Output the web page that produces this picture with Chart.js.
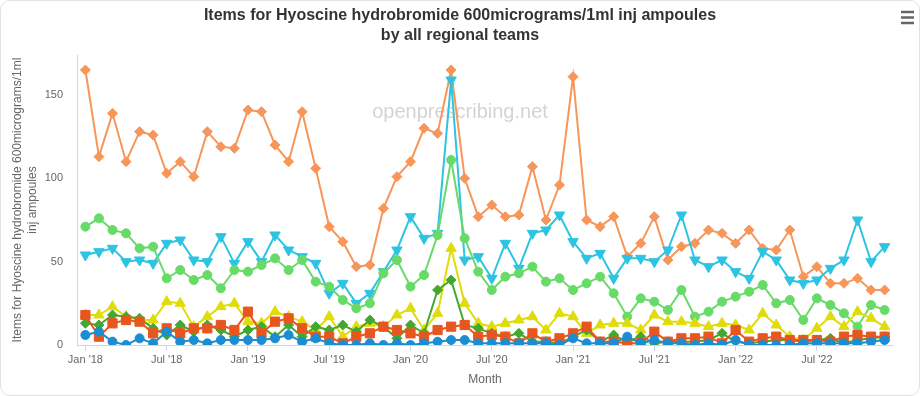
<!DOCTYPE html>
<html>
<head>
<meta charset="utf-8">
<title>Hyoscine hydrobromide items by regional team</title>
<script src="https://cdn.jsdelivr.net/npm/chart.js@4.4.1/dist/chart.umd.min.js"></script>
<style>
  html, body { margin: 0; padding: 0; background: #fff; }
  #wrap { position: relative; width: 920px; height: 396px; }
  #frame { position: absolute; left: 0; top: 0; width: 920px; height: 396px; box-sizing: border-box;
           border: 1px solid #e2e2e2; border-radius: 10px; pointer-events: none; }
</style>
</head>
<body>
<div id="wrap">
  <canvas id="chart" width="920" height="396"></canvas>
  <div id="frame"></div>
</div>
<script>
// Months Jan 2018 .. Dec 2022
const months = [
  "2018-01","2018-02","2018-03","2018-04","2018-05","2018-06","2018-07","2018-08","2018-09","2018-10","2018-11","2018-12",
  "2019-01","2019-02","2019-03","2019-04","2019-05","2019-06","2019-07","2019-08","2019-09","2019-10","2019-11","2019-12",
  "2020-01","2020-02","2020-03","2020-04","2020-05","2020-06","2020-07","2020-08","2020-09","2020-10","2020-11","2020-12",
  "2021-01","2021-02","2021-03","2021-04","2021-05","2021-06","2021-07","2021-08","2021-09","2021-10","2021-11","2021-12",
  "2022-01","2022-02","2022-03","2022-04","2022-05","2022-06","2022-07","2022-08","2022-09","2022-10","2022-11","2022-12"
];
const tickLabels = ["Jan '18", "Jul '18", "Jan '19", "Jul '19", "Jan '20", "Jul '20", "Jan '21", "Jul '21", "Jan '22", "Jul '22"];
const yTicks = [0, 50, 100, 150];

// items per regional team
const orangeTeam = [165,113,139,110,128,126,103,110,101,128, 119,118,141,140,120,110,140,106,71,62,
                    47,48,82,101,110,130,127,165,100,77, 84,77,78,107,75,96,161,75,71,77,
                    53,61,77,51,59,61,69,67,61,69, 58,57,69,41,47,37,37,40,33,33];
const cyanTeam = [54,56,58,50,51,49,61,63,51,50, 65,49,62,50,66,57,53,49,31,37,
                  25,31,44,57,77,64,67,159,51,53, 40,61,46,67,69,78,62,52,55,40,
                  52,52,50,57,78,51,47,51,44,40, 56,51,39,37,39,46,51,75,50,59];
const lightGreenTeam = [71,76,69,67,58,59,40,45,39,42, 34,45,44,48,52,45,51,38,35,27,
                        22,25,43,51,35,42,66,111,64,44, 33,41,43,47,38,40,33,37,41,31,
                        17,28,26,21,33,17,20,26,29,32, 36,25,27,15,28,24,19,11,24,21];
const yellowTeam = [18,18,23,17,15,15,26,25,11,17, 23,25,14,13,20,17,14,9,17,5,
                    11,13,11,18,22,9,19,58,25,13, 11,13,15,17,9,19,17,7,12,13,
                    13,9,18,14,14,13,11,13,12,9, 19,12,5,3,10,17,11,20,16,11];
const darkGreenTeam = [13,12,18,17,16,10,6,12,8,12, 9,5,9,11,5,12,5,11,9,12,
                       8,15,11,4,12,7,33,39,12,10, 7,5,7,2,2,1,5,9,2,6,
                       2,5,1,2,2,2,3,7,2,1, 2,3,3,2,3,4,1,3,4,5];
const redTeam = [18,5,13,15,14,7,10,7,10,10, 12,9,20,7,14,16,10,5,5,1,
                 5,7,11,9,7,5,9,11,12,5, 6,5,1,7,2,4,7,11,2,2,
                 1,1,8,2,4,4,5,1,9,2, 4,5,3,3,3,2,5,6,5,5];
const blueTeam = [6,8,2,0,4,1,8,2,3,1, 3,3,3,3,4,6,2,4,1,0,
                  0,1,0,1,0,1,2,3,3,1, 1,1,1,1,1,0,4,1,1,1,
                  5,1,3,1,1,0,1,0,3,0, 0,0,0,1,1,1,1,1,2,3];

function toPoints(values) {
  return values.map((v, i) => ({ x: i, y: v }));
}

function series(label, values, color, style, radius, rotation) {
  return {
    label: label,
    data: toPoints(values),
    borderColor: color,
    backgroundColor: color,
    pointBackgroundColor: color,
    pointBorderColor: color,
    pointBorderWidth: 1,
    pointStyle: style,
    pointRadius: radius,
    pointRotation: rotation || 0,
    borderWidth: 2,
    tension: 0,
  };
}

// watermark and the menu icon in the corner
const extras = {
  id: "extras",
  beforeDatasetsDraw(chart) {
    const ctx = chart.ctx;
    ctx.save();
    ctx.font = "20px 'Liberation Sans', Arial, sans-serif";
    ctx.fillStyle = "#d4d4d4";
    ctx.textAlign = "center";
    ctx.textBaseline = "middle";
    ctx.fillText("openprescribing.net", 460, 112);
    ctx.restore();
  },
  afterDraw(chart) {
    const ctx = chart.ctx;
    ctx.save();
    ctx.strokeStyle = "#666";
    ctx.lineWidth = 2.5;
    [12, 17.5, 23].forEach((y) => {
      ctx.beginPath();
      ctx.moveTo(901, y);
      ctx.lineTo(914, y);
      ctx.stroke();
    });
    ctx.restore();
  },
};

const axisColor = "#ccd6eb";
const labelFont = { family: "'Liberation Sans', Arial, sans-serif", size: 11 };

new Chart(document.getElementById("chart"), {
  type: "line",
  data: {
    datasets: [
      series("Team 7", blueTeam, "#1b8dd0", "circle", 4.5),
      series("Team 6", redTeam, "#e8561f", "rect", 6.5),
      series("Team 5", darkGreenTeam, "#44a830", "rectRot", 5),
      series("Team 4", yellowTeam, "#e0dc0a", "triangle", 6),
      series("Team 3", lightGreenTeam, "#68da68", "circle", 4.5),
      series("Team 2", cyanTeam, "#2cc4e2", "triangle", 6, 180),
      series("Team 1", orangeTeam, "#f7965a", "rectRot", 5),
    ],
  },
  options: {
    responsive: false,
    animation: false,
    layout: { padding: { left: 0, right: 0, top: 0, bottom: 0 } },
    plugins: {
      legend: { display: false },
      tooltip: { enabled: false },
      title: {
        display: true,
        text: ["Items for Hyoscine hydrobromide 600micrograms/1ml inj ampoules", "by all regional teams"],
        color: "#333",
        font: { family: "'Liberation Sans', Arial, sans-serif", size: 16, weight: "bold", lineHeight: 1.25 },
        padding: { top: 6, bottom: 9 },
      },
    },
    scales: {
      x: {
        type: "linear",
        min: -0.62,
        max: 59.62,
        afterBuildTicks: (scale) => {
          scale.ticks = tickLabels.map((_, k) => ({ value: k * 6 }));
        },
        afterFit: (scale) => {
          scale.height = 51;
          scale.paddingRight = 27;
          scale.paddingLeft = 0;
        },
        ticks: {
          autoSkip: false,
          maxRotation: 0,
          padding: 2,
          color: "#666",
          font: labelFont,
          callback: (v) => tickLabels[Math.round(v / 6)],
        },
        grid: { drawOnChartArea: false, drawTicks: true, tickLength: 6, tickColor: axisColor },
        border: { display: true, color: axisColor, width: 1 },
        title: {
          display: true,
          text: "Month",
          color: "#666",
          font: { family: "'Liberation Sans', Arial, sans-serif", size: 12 },
          padding: { top: 4, bottom: 9 },
        },
      },
      y: {
        min: 0,
        max: 174,
        afterBuildTicks: (scale) => {
          scale.ticks = yTicks.map((v) => ({ value: v }));
        },
        afterFit: (scale) => {
          scale.width = 77;
        },
        ticks: { color: "#666", font: labelFont, padding: 14 },
        grid: { drawOnChartArea: false, drawTicks: false },
        border: { display: true, color: axisColor, width: 1 },
        title: {
          display: true,
          text: ["Items for Hyoscine hydrobromide 600micrograms/1ml", "inj ampoules"],
          color: "#666",
          font: { family: "'Liberation Sans', Arial, sans-serif", size: 12, lineHeight: 1.25 },
          padding: { top: 10, bottom: 0 },
        },
      },
    },
  },
  plugins: [extras],
});
</script>
</body>
</html>
